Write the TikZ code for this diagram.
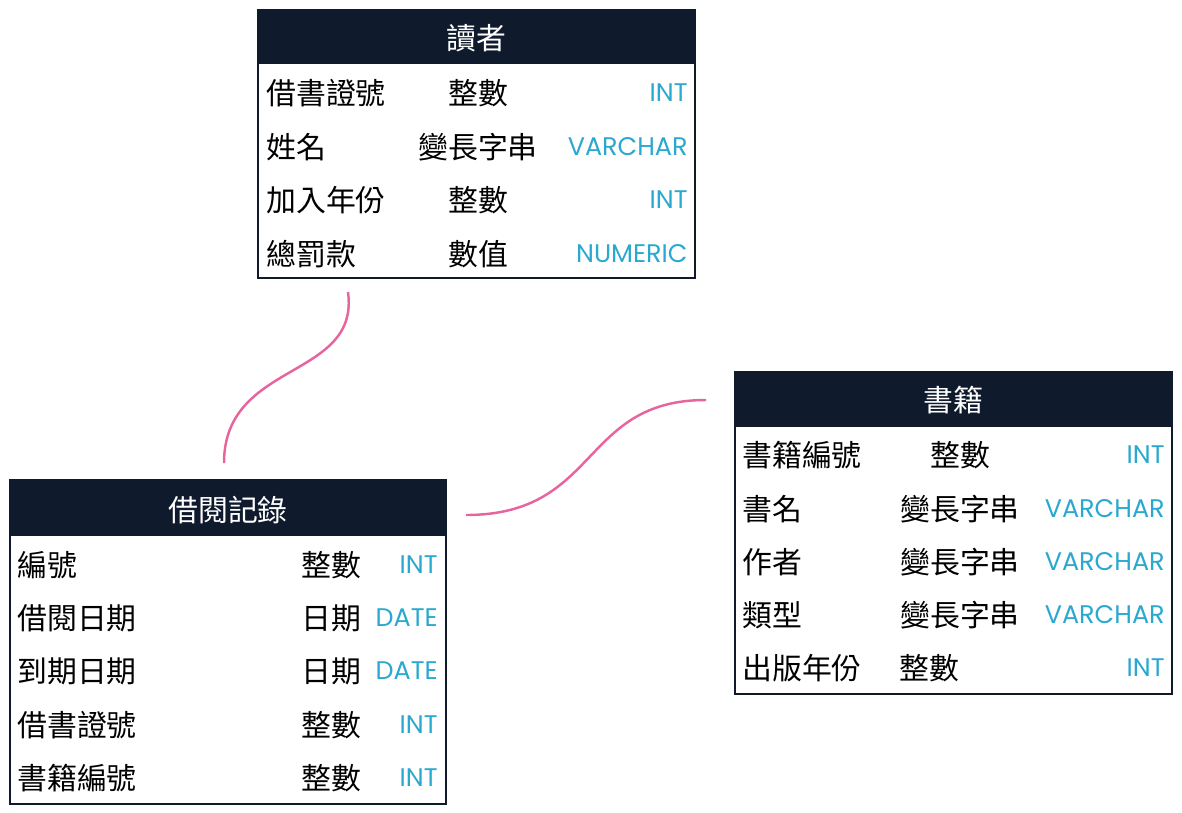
\documentclass[tikz,border=0pt]{standalone}
\usepackage{fontspec}
\setmainfont{Noto Sans CJK TC}
\newfontfamily\typefont{Poppins}
\definecolor{hdrblue}{HTML}{0F1B2D}
\definecolor{sqlcyan}{HTML}{2BA8CF}
\definecolor{linkpink}{HTML}{E8649E}

\begin{document}
\begin{tikzpicture}[x=0.02cm,y=-0.02cm]
	\tikzset{
		hdr/.style={fill=hdrblue, text=white, font=\fontsize{17}{20}\selectfont, inner sep=0pt},
		frame/.style={draw=hdrblue, line width=1.2pt},
		fld/.style={anchor=west, font=\fontsize{17}{20}\selectfont, inner sep=0pt},
		cn/.style={font=\fontsize{17}{20}\selectfont, inner sep=0pt},
		sql/.style={anchor=east, text=sqlcyan, font=\typefont\fontsize{14.5}{17}\selectfont, inner sep=0pt},
		link/.style={draw=linkpink, line width=1.4pt}
	}
	\useasboundingbox (0,0) rectangle (1182,812);
	
	%% READER
	\draw[frame] (258,10) rectangle (695,278);
	\fill[hdrblue] (258,10) rectangle (695,64);
	\node[hdr] (Reader) at (476.5,38) {讀者};
	\foreach \y/\f/\c/\t in {93/借書證號/整數/INT, 147/姓名/變長字串/VARCHAR, 200/加入年份/整數/INT, 254/總罰款/數值/NUMERIC}{
		\node[fld] at (266,\y) {\f};
		\node[cn] at (478,\y) {\c};
		\node[sql] at (688,\y) {\t};
	}
	\coordinate (ReaderEnd) at (348,292);
	
	%% BOOKS
	\draw[frame] (735,372) rectangle (1172,694);
	\fill[hdrblue] (735,372) rectangle (1172,427);
	\node[hdr] (Book) at (953.5,400) {書籍};
	\foreach \y/\f/\c/\t in {455/書籍編號/整數/INT, 509/書名/變長字串/VARCHAR, 562/作者/變長字串/VARCHAR, 615/類型/變長字串/VARCHAR}{
		\node[fld] at (742,\y) {\f};
		\node[cn] at (960,\y) {\c};
		\node[sql] at (1165,\y) {\t};
	}
	\node[fld] at (742,668) {出版年份};
	\node[cn] at (929,668) {整數};
	\node[sql] at (1165,668) {INT};
	\coordinate (BookEnd) at (706,400);
	
	%% LOANS
	\draw[frame] (10,480) rectangle (446,804);
	\fill[hdrblue] (10,480) rectangle (446,536);
	\node[hdr] (Loan) at (228,510) {借閱記錄};
	\foreach \y/\f/\c/\t in {565/編號/整數/INT, 618/借閱日期/日期/DATE, 671/到期日期/日期/DATE, 725/借書證號/整數/INT, 778/書籍編號/整數/INT}{
		\node[fld] at (17,\y) {\f};
		\node[cn, anchor=east] at (362,\y) {\c};
		\node[sql] at (438,\y) {\t};
	}
	\coordinate (LoanTop) at (224,463);
	\coordinate (LoanRight) at (466,515);
	
	\draw[link] (ReaderEnd) .. controls (360,380) and (224,360) .. (LoanTop);
	\draw[link] (LoanRight) .. controls (600,515) and (580,400) .. (BookEnd);
\end{tikzpicture}
\end{document}
